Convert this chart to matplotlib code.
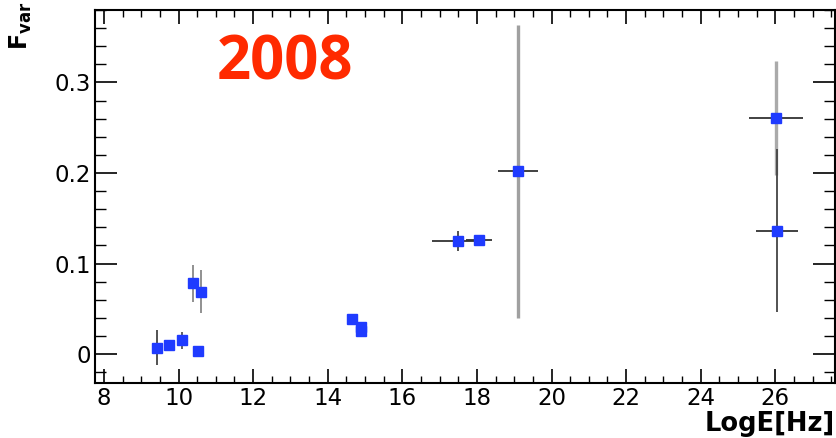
import matplotlib
matplotlib.use("Agg")
import matplotlib.pyplot as plt
from matplotlib.ticker import MultipleLocator

plt.rcParams['font.family'] = ['DejaVu Sans']
plt.rcParams['mathtext.fontset'] = 'custom'
plt.rcParams['mathtext.bf'] = 'DejaVu Sans:bold'
plt.rcParams['mathtext.rm'] = 'DejaVu Sans'

# data: log frequency, Fvar, errors
log_e = [9.42, 9.74, 10.09, 10.39, 10.60, 10.52, 14.66, 14.88, 14.88, 17.50, 18.05, 19.10, 26.02, 26.05]
fvar = [0.007, 0.010, 0.015, 0.078, 0.069, 0.003, 0.039, 0.030, 0.025, 0.125, 0.126, 0.202, 0.261, 0.136]
x_err = [0.0, 0.0, 0.0, 0.0, 0.0, 0.0, 0.0, 0.0, 0.0, 0.70, 0.35, 0.53, 0.72, 0.56]
y_err = [0.019, 0.0, 0.009, 0.020, 0.024, 0.0, 0.0, 0.0, 0.0, 0.011, 0.002, 0.162, 0.063, 0.090]
y_err_color = ['#444444', '#444444', '#555555', '#888888', '#888888', '#444444', '#444444',
               '#444444', '#444444', '#444444', '#444444', '#a0a0a0', '#aaaaaa', '#444444']

fig = plt.figure(figsize=(8.37, 4.38), dpi=100)
ax = fig.add_axes([0.1135, 0.1256, 0.8841, 0.8514])

for xi, yi, xe, ye, c in zip(log_e, fvar, x_err, y_err, y_err_color):
    if ye:
        lw = 2.4 if c in ('#a0a0a0', '#aaaaaa') else 1.3
        ax.errorbar(xi, yi, yerr=ye, fmt='none', ecolor=c, elinewidth=lw, capsize=0, zorder=2)
    if xe:
        ax.errorbar(xi, yi, xerr=xe, fmt='none', ecolor='#333333', elinewidth=1.3,
                    capsize=0, zorder=2)
ax.plot(log_e, fvar, linestyle='none', marker='s', markersize=7,
        color='#1f3bff', markeredgecolor='#1f3bff', zorder=3)

ax.set_xlim(7.76, 27.6)
ax.set_ylim(-0.032, 0.38)
ax.xaxis.set_major_locator(MultipleLocator(2))
ax.xaxis.set_minor_locator(MultipleLocator(0.5))
ax.yaxis.set_major_locator(MultipleLocator(0.1))
ax.yaxis.set_minor_locator(MultipleLocator(0.02))
ax.yaxis.set_major_formatter(plt.FuncFormatter(lambda v, p: '0' if abs(v) < 1e-9 else f'{v:.1f}'))

ax.tick_params(which='both', direction='in', top=True, right=True, colors='black')
ax.tick_params(axis='y', which='major', length=16, width=1.2, labelsize=16.5, pad=3)
ax.tick_params(axis='y', which='minor', length=8, width=1.0)
ax.tick_params(axis='x', which='major', length=10, width=1.2, labelsize=16.5, pad=3)
ax.tick_params(axis='x', which='minor', length=5, width=1.0)
for s in ax.spines.values():
    s.set_linewidth(1.5)

fig.text(0.025, 0.94, r'$\mathbf{F_{var}}$', rotation=90, fontsize=17,
         ha='center', va='center')
fig.text(0.998, 0.032, 'LogE[Hz]', fontsize=18.5, fontweight='bold', ha='right', va='center')
fig.text(0.341, 0.853, '2008', fontsize=43, fontweight='bold', family='Open Sans',
         color='#ff2a00', ha='center', va='center')

fig.savefig('out.png', dpi=100)
